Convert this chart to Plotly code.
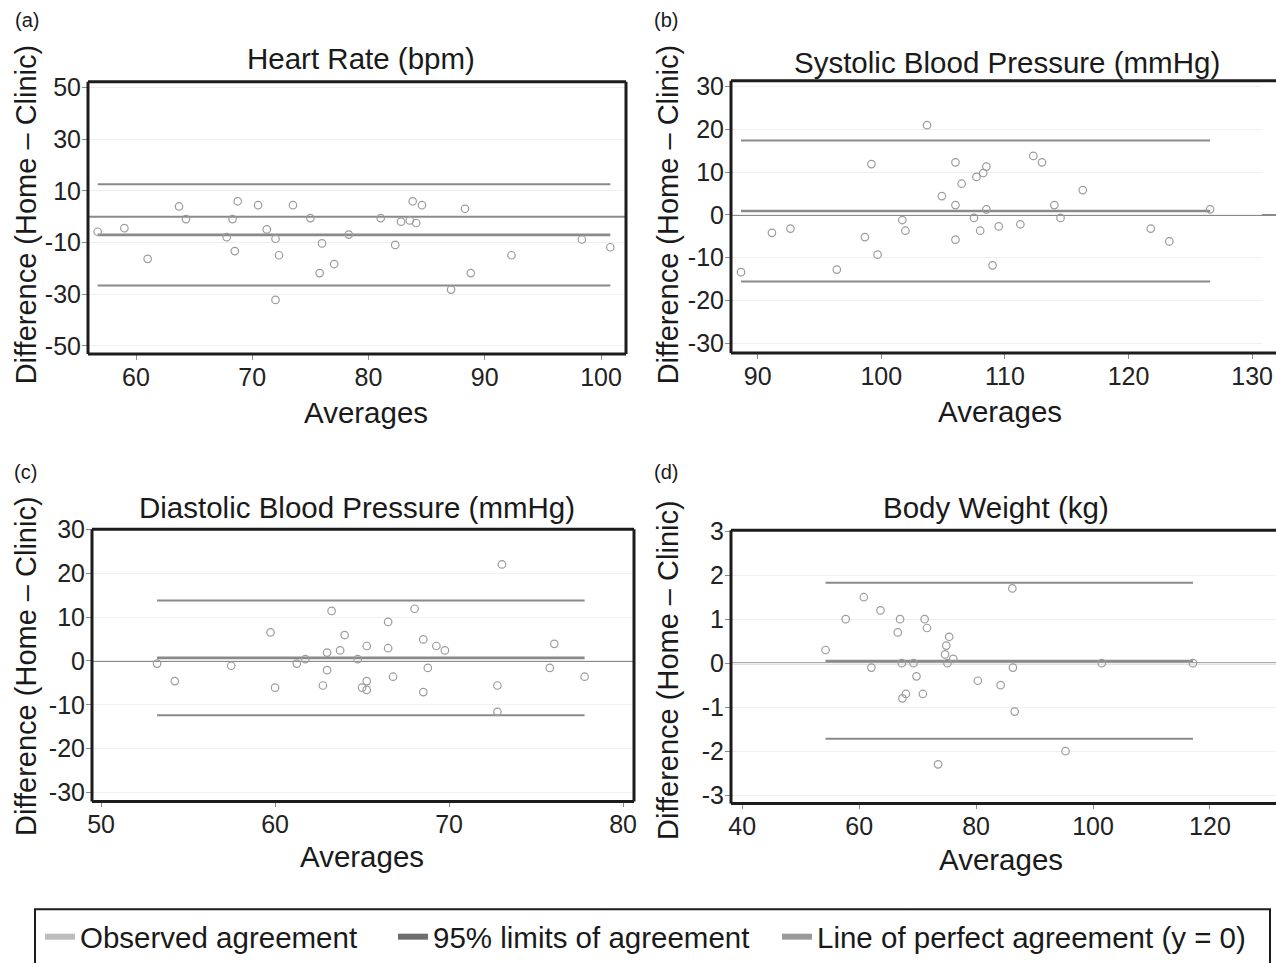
import plotly.graph_objects as go

W, H = 1276, 963
FONT = "Liberation Sans, Arial, Helvetica, sans-serif"

# ---------------- data ----------------
panel_titles = ["Heart Rate (bpm)", "Systolic Blood Pressure (mmHg)",
                "Diastolic Blood Pressure (mmHg)", "Body Weight (kg)"]
panel_letters = ["(a)", "(b)", "(c)", "(d)"]
y_title = "Difference (Home \u2013 Clinic)"
x_title = "Averages"
legend_names = ["Observed agreement", "95% limits of agreement",
                "Line of perfect agreement (y = 0)"]

# (a) Heart rate
hr_avg = [56.7, 59.0, 61.0, 63.7, 64.3, 67.8, 68.3, 68.5, 68.75, 70.5, 71.25,
          72.0, 72.0, 72.3, 73.5, 75.0, 75.8, 76.0, 77.05, 78.3, 81.05, 82.3,
          82.8, 83.55, 83.8, 84.1, 84.6, 87.1, 88.3, 88.8, 92.3, 98.35, 100.8]
hr_diff = [-5.8, -4.4, -16.3, 4.0, -0.9, -7.9, -0.9, -13.3, 6.0, 4.5, -4.9,
           -8.5, -32.2, -14.9, 4.5, -0.5, -21.8, -10.3, -18.3, -6.9, -0.5, -10.9,
           -1.9, -1.4, 6.0, -2.4, 4.5, -28.2, 3.1, -21.8, -14.9, -8.8, -11.8]
hr_mean, hr_upper, hr_lower = -7.0, 12.6, -26.6
hr_xticks = [60, 70, 80, 90, 100]
hr_yticks = [50, 30, 10, -10, -30, -50]

# (b) Systolic BP
sbp_avg = [88.65, 91.15, 92.65, 96.4, 98.67, 99.2, 99.7, 101.7, 101.95, 103.7,
           104.9, 106.0, 106.0, 106.0, 106.5, 107.5, 107.7, 108.0, 108.25, 108.5,
           108.5, 109.0, 109.5, 111.25, 112.3, 113.0, 114.0, 114.5, 116.3, 121.8,
           123.3, 126.6]
sbp_diff = [-13.4, -4.2, -3.2, -12.8, -5.2, 11.9, -9.3, -1.2, -3.7, 21.0,
            4.4, 12.3, 2.3, -5.8, 7.3, -0.7, 8.9, -3.7, 9.8, 11.3,
            1.3, -11.8, -2.7, -2.2, 13.8, 12.3, 2.3, -0.7, 5.8, -3.2,
            -6.2, 1.3]
sbp_mean, sbp_upper, sbp_lower = 0.9, 17.4, -15.6
sbp_xticks = [90, 100, 110, 120, 130]
sbp_yticks = [30, 20, 10, 0, -10, -20, -30]

# (c) Diastolic BP
dbp_avg = [53.22, 54.24, 57.48, 59.74, 60.0, 61.25, 61.74, 62.75, 62.99, 62.99,
           63.25, 63.74, 64.0, 64.75, 65.0, 65.27, 65.27, 65.27, 66.5, 66.5,
           66.78, 68.02, 68.52, 68.52, 68.78, 69.27, 69.76, 72.78, 72.78, 73.04,
           75.79, 76.05, 77.79]
dbp_diff = [-0.6, -4.6, -1.1, 6.5, -6.1, -0.6, 0.4, -5.6, 1.9, -2.1,
            11.4, 2.4, 5.9, 0.4, -6.1, 3.4, -4.6, -6.6, 8.9, 2.9,
            -3.6, 11.9, 4.9, -7.1, -1.6, 3.4, 2.4, -5.6, -11.6, 22.0,
            -1.6, 3.9, -3.6]
dbp_mean, dbp_upper, dbp_lower = 0.7, 13.8, -12.4
dbp_xticks = [50, 60, 70, 80]
dbp_yticks = [30, 20, 10, 0, -10, -20, -30]

# (d) Body weight
bw_avg = [54.25, 57.7, 60.8, 62.1, 63.65, 66.6, 67.0, 67.3, 67.4, 68.0,
          69.3, 69.8, 70.9, 71.2, 71.6, 73.5, 74.7, 74.9, 75.1, 75.4,
          76.1, 80.3, 84.2, 86.2, 86.3, 86.6, 95.3, 101.5, 117.1]
bw_diff = [0.3, 1.0, 1.5, -0.1, 1.2, 0.7, 1.0, 0.0, -0.8, -0.7,
           0.0, -0.3, -0.7, 1.0, 0.8, -2.3, 0.2, 0.4, 0.0, 0.6,
           0.1, -0.4, -0.5, 1.7, -0.1, -1.1, -2.0, 0.0, 0.0]
bw_mean, bw_upper, bw_lower = 0.05, 1.83, -1.72
bw_xticks = [40, 60, 80, 100, 120]
bw_yticks = [3, 2, 1, 0, -1, -2, -3]

panels = [
    dict(avg=hr_avg, diff=hr_diff, mean=hr_mean, up=hr_upper, lo=hr_lower,
         xt=hr_xticks, yt=hr_yticks,
         px=(88, 626), py=(82, 355), xr=[55.87, 102.15], yr=[-53.1, 52.3],
         right_open=False, title_xy=(361, 59), xt_xy=(366, 414),
         yt_xy=(26, 215), lab_xy=(27, 20)),
    dict(avg=sbp_avg, diff=sbp_diff, mean=sbp_mean, up=sbp_upper, lo=sbp_lower,
         xt=sbp_xticks, yt=sbp_yticks,
         px=(731, 1262), py=(81, 354), xr=[87.84, 130.8], yr=[-32.3, 31.4],
         right_open=True, title_xy=(1007, 63), xt_xy=(1000, 413),
         yt_xy=(668, 215), lab_xy=(666, 20)),
    dict(avg=dbp_avg, diff=dbp_diff, mean=dbp_mean, up=dbp_upper, lo=dbp_lower,
         xt=dbp_xticks, yt=dbp_yticks,
         px=(92, 634), py=(531, 804), xr=[49.48, 80.63], yr=[-32.05, 30.0],
         right_open=False, title_xy=(357, 509), xt_xy=(362, 859),
         yt_xy=(26, 668), lab_xy=(25, 473)),
    dict(avg=bw_avg, diff=bw_diff, mean=bw_mean, up=bw_upper, lo=bw_lower,
         xt=bw_xticks, yt=bw_yticks,
         px=(731, 1276), py=(532, 806), xr=[38.08, 131.3], yr=[-3.19, 3.02],
         right_open=True, title_xy=(996, 509), xt_xy=(1001, 862),
         yt_xy=(668, 672), lab_xy=(666, 473)),
]

LINE_GRAY = "#8a8a8a"
MARKER_GRAY = "#9c9c9c"
FRAME = "#1c1c1c"
legend_colors = ["#bdbdbd", "#6e6e6e", "#9a9a9a"]

fig = go.Figure()
layout = dict(
    width=W, height=H, margin=dict(l=0, r=0, t=0, b=0),
    paper_bgcolor="white", plot_bgcolor="white",
    font=dict(family=FONT, color="#222222"),
    showlegend=True, template="none",
)
shapes = []
annotations = []

for i, p in enumerate(panels):
    n = "" if i == 0 else str(i + 1)
    xa, ya = "x" + n, "y" + n
    # mean (observed agreement) and limits of agreement lines
    x_ext = [min(p["avg"]), max(p["avg"])]
    for val, w in [(p["up"], 2), (p["lo"], 2), (p["mean"], 2.6)]:
        fig.add_trace(go.Scatter(x=x_ext, y=[val, val], mode="lines",
                                 line=dict(color=LINE_GRAY, width=w),
                                 xaxis=xa, yaxis=ya, showlegend=False,
                                 hoverinfo="skip"))
    fig.add_trace(go.Scatter(x=p["avg"], y=p["diff"], mode="markers",
                             marker=dict(symbol="circle-open", size=7.5,
                                         color=MARKER_GRAY,
                                         line=dict(width=1.2, color=MARKER_GRAY)),
                             xaxis=xa, yaxis=ya, showlegend=False))
    x0, x1 = p["px"]
    y0, y1 = p["py"]
    dom_x = [x0 / W, x1 / W]
    dom_y = [1 - y1 / H, 1 - y0 / H]
    axis_common = dict(showline=False, zeroline=False, ticks="outside",
                       ticklen=5, tickwidth=1, tickcolor="#8a8a8a",
                       ticklabelstandoff=-4,
                       tickfont=dict(size=25, family=FONT, color="#222222"),
                       automargin=False, fixedrange=True)
    layout["xaxis" + n] = dict(domain=dom_x, range=p["xr"], anchor=ya,
                               tickvals=p["xt"], ticktext=[str(v) for v in p["xt"]],
                               showgrid=False, **axis_common)
    layout["yaxis" + n] = dict(domain=dom_y, range=p["yr"], anchor=xa,
                               tickvals=p["yt"], ticktext=[str(v) for v in p["yt"]],
                               showgrid=True, gridcolor="#efefef", gridwidth=1,
                               **axis_common)
    xd, yd = xa + " domain", ya + " domain"
    ext = (1276 - x0) / (x1 - x0) if p["right_open"] else 1.0
    # zero line (line of perfect agreement)
    shapes.append(dict(type="line", xref=xd, yref=ya, x0=0, x1=ext if p["right_open"] else 1.0,
                       y0=0, y1=0, line=dict(color=LINE_GRAY, width=2), layer="below"))
    # frame
    shapes.append(dict(type="line", xref=xd, yref=yd, x0=0, x1=ext, y0=1, y1=1,
                       line=dict(color=FRAME, width=3)))
    shapes.append(dict(type="line", xref=xd, yref=yd, x0=0, x1=ext, y0=0, y1=0,
                       line=dict(color=FRAME, width=3)))
    shapes.append(dict(type="line", xref=xd, yref=yd, x0=0, x1=0, y0=0, y1=1,
                       line=dict(color=FRAME, width=3)))
    if not p["right_open"]:
        shapes.append(dict(type="line", xref=xd, yref=yd, x0=1, x1=1, y0=0, y1=1,
                           line=dict(color=FRAME, width=3)))
    # texts
    tx, ty = p["title_xy"]
    annotations.append(dict(text=panel_titles[i], x=tx / W, y=1 - ty / H,
                            xref="paper", yref="paper", showarrow=False,
                            xanchor="center", yanchor="middle",
                            font=dict(size=29.5, family=FONT, color="#1a1a1a")))
    ax_, ay_ = p["xt_xy"]
    annotations.append(dict(text=x_title, x=ax_ / W, y=1 - ay_ / H,
                            xref="paper", yref="paper", showarrow=False,
                            xanchor="center", yanchor="middle",
                            font=dict(size=29.5, family=FONT, color="#1a1a1a")))
    yx, yy = p["yt_xy"]
    annotations.append(dict(text=y_title, x=yx / W, y=1 - yy / H,
                            xref="paper", yref="paper", showarrow=False,
                            textangle=-90, xanchor="center", yanchor="middle",
                            font=dict(size=29, family=FONT, color="#1a1a1a")))
    lx, ly = p["lab_xy"]
    annotations.append(dict(text=panel_letters[i], x=lx / W, y=1 - ly / H,
                            xref="paper", yref="paper", showarrow=False,
                            xanchor="center", yanchor="middle",
                            font=dict(size=20, family=FONT, color="#1a1a1a")))

# legend entries (one legend per item so each can be placed like the reference)
legend_ids = ["legend", "legend2", "legend3"]
legend_x = [40, 393, 777]
for name, col, lid, lxp in zip(legend_names, legend_colors, legend_ids, legend_x):
    fig.add_trace(go.Scatter(x=[None], y=[None], mode="lines", name=name,
                             line=dict(color=col, width=6), legend=lid,
                             showlegend=True))
    layout[lid] = dict(x=lxp / W, y=1 - 940 / H, xanchor="left", yanchor="middle",
                       orientation="h", bgcolor="rgba(0,0,0,0)", borderwidth=0,
                       font=dict(size=29.5, family=FONT, color="#1a1a1a"),
                       itemwidth=30, itemclick=False, itemdoubleclick=False)

# legend box
shapes.append(dict(type="rect", xref="paper", yref="paper",
                   x0=35 / W, x1=1270 / W, y0=-0.02, y1=1 - 912 / H,
                   line=dict(color=FRAME, width=2), fillcolor="rgba(0,0,0,0)"))

layout["shapes"] = shapes
layout["annotations"] = annotations
fig.update_layout(**layout)
fig.write_html("out.html")
